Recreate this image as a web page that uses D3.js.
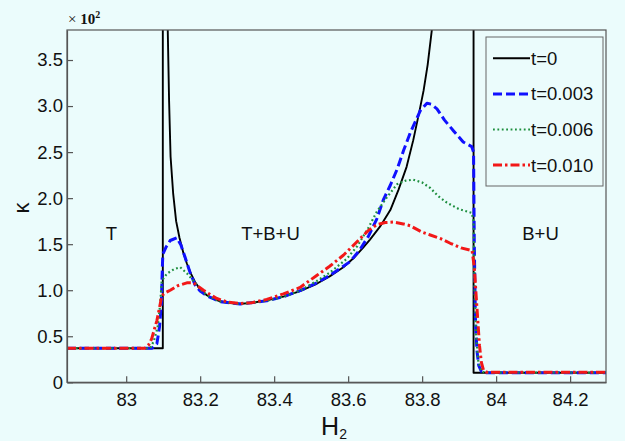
<!DOCTYPE html>
<html>
<head>
<meta charset="utf-8">
<script src="https://cdn.jsdelivr.net/npm/d3@7"></script>
<style>
  html, body { margin: 0; padding: 0; background: #ebfcfc; }
  svg { display: block; }
  text { font-family: "Liberation Sans", Arial, sans-serif; fill: #111; }
</style>
</head>
<body>
<svg id="chart" width="625" height="441"></svg>
<script>
// Axis ticks and labels
const xTicks = [83, 83.2, 83.4, 83.6, 83.8, 84, 84.2];
const xTickLabels = ["83", "83.2", "83.4", "83.6", "83.8", "84", "84.2"];
const yTicks = [0, 50, 100, 150, 200, 250, 300, 350];
const yTickLabels = ["0", "0.5", "1.0", "1.5", "2.0", "2.5", "3.0", "3.5"];

// Series names
const seriesNames = ["t=0", "t=0.003", "t=0.006", "t=0.010"];

// κ versus H2, one [H2, κ] pair per sample
const kappaT0 = [
  [82.84, 37], [83.099, 37], [83.099, 600], [83.108, 600], [83.112, 390],
  [83.116, 305], [83.120, 245], [83.127, 205], [83.135, 175], [83.144, 157],
  [83.155, 140], [83.164, 129], [83.175, 118], [83.186, 109], [83.200, 101],
  [83.218, 94.5], [83.236, 90.5], [83.254, 88], [83.280, 86], [83.308, 85.3],
  [83.335, 86], [83.380, 89], [83.425, 93], [83.470, 99], [83.515, 107],
  [83.550, 115], [83.587, 125], [83.615, 135], [83.640, 146], [83.659, 155],
  [83.686, 169], [83.714, 187], [83.736, 209], [83.758, 234], [83.776, 263],
  [83.793, 295], [83.804, 317], [83.815, 345], [83.826, 382], [83.835, 430],
  [83.840, 600], [83.939, 600], [83.939, 10.4], [84.30, 10.4]
];
const kappaT003 = [
  [82.84, 37], [83.070, 37], [83.083, 42], [83.090, 60], [83.095, 85],
  [83.097, 115], [83.099, 139], [83.108, 147], [83.119, 154], [83.137, 157],
  [83.148, 149], [83.159, 136], [83.172, 120], [83.186, 106], [83.200, 99],
  [83.218, 94], [83.254, 87.5], [83.308, 85], [83.380, 88.5], [83.425, 93],
  [83.470, 99.5], [83.515, 108], [83.550, 116], [83.605, 131], [83.630, 143],
  [83.654, 158], [83.677, 177], [83.695, 198], [83.714, 214], [83.732, 231],
  [83.750, 252], [83.768, 271], [83.795, 295], [83.813, 303], [83.825, 302],
  [83.840, 297], [83.860, 285], [83.885, 273], [83.911, 261], [83.934, 256],
  [83.939, 250], [83.941, 150], [83.944, 70], [83.948, 35], [83.953, 18],
  [83.960, 12], [83.970, 10.5], [84.30, 10.5]
];
const kappaT006 = [
  [82.84, 37], [83.065, 37], [83.075, 45], [83.085, 60], [83.092, 85],
  [83.096, 110], [83.110, 118], [83.130, 123], [83.146, 125], [83.165, 118],
  [83.182, 110], [83.200, 101], [83.218, 94.5], [83.254, 87.7], [83.308, 85],
  [83.380, 88.5], [83.425, 93], [83.470, 99.5], [83.515, 110], [83.550, 119],
  [83.596, 134], [83.625, 148], [83.655, 168], [83.677, 185], [83.705, 201],
  [83.732, 215], [83.755, 219], [83.776, 220], [83.800, 217], [83.822, 211],
  [83.844, 202], [83.867, 195], [83.900, 188], [83.934, 184], [83.939, 175],
  [83.942, 100], [83.946, 50], [83.952, 22], [83.960, 12], [83.970, 10.5],
  [84.30, 10.5]
];
const kappaT010 = [
  [82.84, 37], [83.050, 37], [83.060, 40], [83.069, 47.5], [83.083, 67],
  [83.092, 85], [83.096, 94], [83.105, 97], [83.119, 100], [83.140, 105],
  [83.164, 108], [83.182, 108], [83.195, 104], [83.209, 100], [83.228, 95],
  [83.245, 91], [83.275, 87], [83.308, 85.5], [83.340, 86.5], [83.380, 90],
  [83.425, 96], [83.470, 103], [83.515, 116], [83.550, 126], [83.587, 138],
  [83.610, 147], [83.632, 156], [83.655, 165], [83.677, 171], [83.700, 173.5],
  [83.722, 174], [83.749, 172], [83.768, 170], [83.800, 163], [83.822, 160],
  [83.850, 156], [83.876, 151], [83.905, 146], [83.935, 143], [83.941, 125],
  [83.945, 100], [83.950, 70], [83.955, 40], [83.960, 22], [83.966, 13],
  [83.975, 10.8], [84.30, 10.8]
];

// Region labels: text, H2 position, κ position
const regionText = ["T", "T+B+U", "B+U"];
const regionH2 = [82.96, 83.39, 84.12];
const regionKappa = [162, 162, 162];

const svg = d3.select("#chart");
const margin = { left: 67, top: 30, right: 606, bottom: 382.3 };

const x = d3.scaleLinear().domain([82.84, 84.297]).range([margin.left, margin.right]);
const y = d3.scaleLinear().domain([0, 382.6]).range([margin.bottom, margin.top]);

svg.append("defs").append("clipPath").attr("id", "plot-clip")
  .append("rect")
  .attr("x", margin.left).attr("y", margin.top)
  .attr("width", margin.right - margin.left)
  .attr("height", margin.bottom - margin.top);

// Curves, drawn in legend order so the last sits on top
const styles = [
  { data: kappaT0,   color: "#000000", width: 1.9, dash: null },
  { data: kappaT003, color: "#1010ff", width: 3,   dash: "9,4" },
  { data: kappaT006, color: "#1f8f3f", width: 2.2, dash: "1.8,2.6" },
  { data: kappaT010, color: "#f21818", width: 3,   dash: "9,3,2.5,3" }
];

const line = d3.line().x(d => x(d[0])).y(d => y(d[1]));

const curves = svg.append("g").attr("clip-path", "url(#plot-clip)");
styles.forEach(s => {
  curves.append("path")
    .datum(s.data)
    .attr("d", line)
    .attr("fill", "none")
    .attr("stroke", s.color)
    .attr("stroke-width", s.width)
    .attr("stroke-dasharray", s.dash)
    .attr("stroke-linejoin", "round");
});

// Frame
const axisColor = "#555";
svg.append("rect")
  .attr("x", margin.left).attr("y", margin.top)
  .attr("width", margin.right - margin.left)
  .attr("height", margin.bottom - margin.top)
  .attr("fill", "none").attr("stroke", axisColor).attr("stroke-width", 1.2);

// Bottom axis with inward ticks
const xAxis = d3.axisBottom(x)
  .tickValues(xTicks)
  .tickFormat((d, i) => xTickLabels[i])
  .tickSizeInner(-6).tickSizeOuter(0).tickPadding(11);
const gx = svg.append("g").attr("transform", `translate(0,${margin.bottom})`).call(xAxis);
gx.select(".domain").attr("stroke", axisColor).attr("stroke-width", 1.2);
gx.selectAll(".tick line").attr("stroke", axisColor).attr("stroke-width", 1.2);
gx.selectAll(".tick text")
  .attr("font-size", "18.5px").attr("font-family", "Liberation Sans, Arial, sans-serif")
  .attr("fill", "#111");

// Left axis with inward ticks
const yAxis = d3.axisLeft(y)
  .tickValues(yTicks)
  .tickFormat((d, i) => yTickLabels[i])
  .tickSizeInner(-6).tickSizeOuter(0).tickPadding(4);
const gy = svg.append("g").attr("transform", `translate(${margin.left},0)`).call(yAxis);
gy.select(".domain").attr("stroke", axisColor).attr("stroke-width", 1.2);
gy.selectAll(".tick line").attr("stroke", axisColor).attr("stroke-width", 1.2);
gy.selectAll(".tick text")
  .attr("font-size", "18.5px").attr("font-family", "Liberation Sans, Arial, sans-serif")
  .attr("fill", "#111");

// Exponent marker above the left axis
const serif = "Liberation Serif, Times New Roman, serif";
const mult = svg.append("text").attr("x", 68).attr("y", 24).attr("font-size", "15px");
mult.append("tspan").text("× ").attr("font-family", serif);
mult.append("tspan").text("10").attr("font-weight", "bold").attr("font-family", serif);
mult.append("tspan").text("2").attr("font-weight", "bold").attr("font-size", "10px")
  .attr("dy", -6).attr("font-family", serif);

// Axis titles
const xt = svg.append("text").attr("x", 334).attr("y", 435)
  .attr("text-anchor", "middle").attr("font-size", "25px");
xt.append("tspan").text("H");
xt.append("tspan").text("2").attr("font-size", "14px").attr("dy", 4);

svg.append("text")
  .attr("transform", "translate(29,208) rotate(-90)")
  .attr("text-anchor", "middle")
  .attr("font-size", "22px")
  .text("κ");

// Region labels
regionText.forEach((t, i) => {
  svg.append("text")
    .attr("x", x(regionH2[i])).attr("y", y(regionKappa[i]))
    .attr("text-anchor", "middle").attr("dominant-baseline", "central")
    .attr("font-size", "18.5px")
    .text(t);
});

// Legend
const lg = svg.append("g");
lg.append("rect")
  .attr("x", 486).attr("y", 37).attr("width", 117).attr("height", 149)
  .attr("fill", "#ebfcfc").attr("stroke", "#666").attr("stroke-width", 1);
seriesNames.forEach((name, i) => {
  const cy = 58.3 + i * 35.6;
  lg.append("line")
    .attr("x1", 493).attr("x2", 530).attr("y1", cy).attr("y2", cy)
    .attr("stroke", styles[i].color)
    .attr("stroke-width", styles[i].width)
    .attr("stroke-dasharray", styles[i].dash);
  lg.append("text")
    .attr("x", 531).attr("y", cy)
    .attr("dominant-baseline", "central")
    .attr("font-size", "18.5px")
    .text(name);
});
</script>
</body>
</html>
